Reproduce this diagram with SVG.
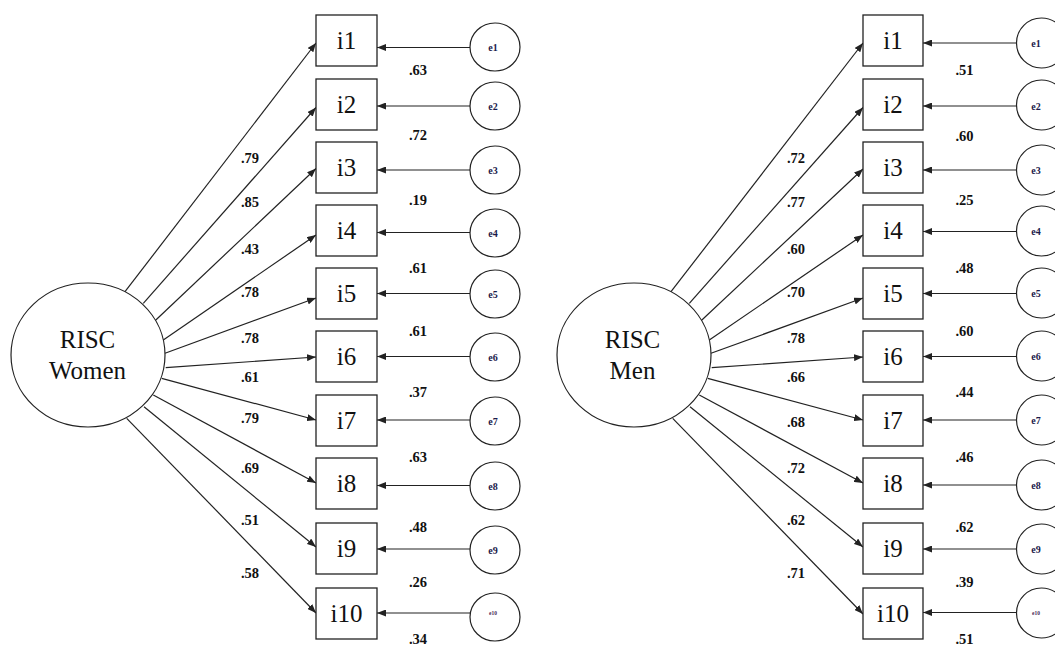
<svg xmlns="http://www.w3.org/2000/svg" width="1055" height="645" viewBox="0 0 1055 645">
<style>
.box{fill:#fff;stroke:#222;stroke-width:1.3}
.lat{fill:#fff;stroke:#222;stroke-width:1.2}
.err{fill:#fff;stroke:#222;stroke-width:1.2}
.edge{fill:none;stroke:#222;stroke-width:1.2;marker-end:url(#ah)}
.t{font-family:"Liberation Serif","Times New Roman",serif;fill:#111;text-anchor:middle}
.it{font-size:25px}
.lt{font-size:25px}
.et{font-size:10px;font-weight:bold;fill:#1a1a4a}
.e10{font-size:5.5px;font-weight:bold;fill:#4a2a5a}
.lb{font-size:14.5px;font-weight:bold}
</style>
<defs>
<marker id="ah" markerUnits="userSpaceOnUse" markerWidth="9" markerHeight="7" refX="9" refY="3.5" orient="auto">
<path d="M0,0 L9,3.5 L0,7 z" fill="#222"/>
</marker>
</defs>
<rect width="1055" height="645" fill="#fff"/>

<g id="connectors">
<line class="edge" x1="125" y1="291.7" x2="316" y2="43"/>
<line class="edge" x1="143.3" y1="303.3" x2="316" y2="107.5"/>
<line class="edge" x1="154" y1="321.7" x2="316" y2="168.5"/>
<line class="edge" x1="163.3" y1="340" x2="316" y2="235"/>
<line class="edge" x1="165" y1="353.3" x2="316" y2="298"/>
<line class="edge" x1="165.7" y1="367.7" x2="316" y2="357"/>
<line class="edge" x1="161.7" y1="378.3" x2="316" y2="420"/>
<line class="edge" x1="153.3" y1="395" x2="316" y2="483"/>
<line class="edge" x1="144" y1="406.7" x2="316" y2="547"/>
<line class="edge" x1="126.7" y1="418.3" x2="316" y2="613"/>
<line class="edge" x1="470" y1="47.5" x2="377" y2="47.5"/>
<line class="edge" x1="470" y1="106" x2="377" y2="106"/>
<line class="edge" x1="470" y1="170" x2="377" y2="170"/>
<line class="edge" x1="470" y1="232.5" x2="377" y2="232.5"/>
<line class="edge" x1="470" y1="293.5" x2="377" y2="293.5"/>
<line class="edge" x1="470" y1="356.5" x2="377" y2="356.5"/>
<line class="edge" x1="470" y1="420" x2="377" y2="420"/>
<line class="edge" x1="470" y1="485.5" x2="377" y2="485.5"/>
<line class="edge" x1="470" y1="549" x2="377" y2="549"/>
<line class="edge" x1="470" y1="613" x2="377" y2="613"/>
<line class="edge" x1="671" y1="291.7" x2="863" y2="43"/>
<line class="edge" x1="689.3" y1="303.3" x2="863" y2="107.5"/>
<line class="edge" x1="700" y1="321.7" x2="863" y2="169"/>
<line class="edge" x1="709.3" y1="340" x2="863" y2="235"/>
<line class="edge" x1="711" y1="353.3" x2="863" y2="298"/>
<line class="edge" x1="711.7" y1="367.7" x2="863" y2="357"/>
<line class="edge" x1="707.7" y1="378.3" x2="863" y2="420"/>
<line class="edge" x1="699.3" y1="395" x2="863" y2="483"/>
<line class="edge" x1="690" y1="406.7" x2="863" y2="547"/>
<line class="edge" x1="672.7" y1="418.3" x2="863" y2="614"/>
<line class="edge" x1="1016.5" y1="43" x2="923" y2="43"/>
<line class="edge" x1="1016.5" y1="106" x2="923" y2="106"/>
<line class="edge" x1="1016.5" y1="170" x2="923" y2="170"/>
<line class="edge" x1="1016.5" y1="231.5" x2="923" y2="231.5"/>
<line class="edge" x1="1016.5" y1="293.5" x2="923" y2="293.5"/>
<line class="edge" x1="1016.5" y1="356.5" x2="923" y2="356.5"/>
<line class="edge" x1="1016.5" y1="420" x2="923" y2="420"/>
<line class="edge" x1="1016.5" y1="485" x2="923" y2="485"/>
<line class="edge" x1="1016.5" y1="549" x2="923" y2="549"/>
<line class="edge" x1="1016.5" y1="612.5" x2="923" y2="612.5"/>
</g>

<g id="labels" class="t lb">
<text x="250" y="163">.79</text>
<text x="250" y="207">.85</text>
<text x="250" y="254">.43</text>
<text x="250" y="297">.78</text>
<text x="250" y="343">.78</text>
<text x="250" y="382">.61</text>
<text x="250" y="423">.79</text>
<text x="250" y="473">.69</text>
<text x="250" y="525">.51</text>
<text x="250" y="578">.58</text>
<text x="418" y="75">.63</text>
<text x="418" y="140">.72</text>
<text x="418" y="205">.19</text>
<text x="418" y="273">.61</text>
<text x="418" y="336">.61</text>
<text x="418" y="397">.37</text>
<text x="418" y="462">.63</text>
<text x="418" y="532">.48</text>
<text x="418" y="587">.26</text>
<text x="418" y="644">.34</text>
<text x="796" y="163">.72</text>
<text x="796" y="207">.77</text>
<text x="796" y="254">.60</text>
<text x="796" y="297">.70</text>
<text x="796" y="343">.78</text>
<text x="796" y="382">.66</text>
<text x="796" y="427">.68</text>
<text x="796" y="473">.72</text>
<text x="796" y="525">.62</text>
<text x="796" y="578">.71</text>
<text x="964.5" y="75">.51</text>
<text x="964.5" y="141">.60</text>
<text x="964.5" y="205">.25</text>
<text x="964.5" y="273">.48</text>
<text x="964.5" y="336">.60</text>
<text x="964.5" y="397">.44</text>
<text x="964.5" y="462">.46</text>
<text x="964.5" y="532">.62</text>
<text x="964.5" y="587">.39</text>
<text x="964.5" y="644">.51</text>
</g>

<g id="risc-women"><ellipse class="lat" cx="88" cy="355" rx="77" ry="72"/><text class="t lt" x="87.5" y="348">RISC</text><text class="t lt" x="87.5" y="379">Women</text></g>
<g id="risc-men"><ellipse class="lat" cx="634" cy="355" rx="77" ry="72"/><text class="t lt" x="632.5" y="348">RISC</text><text class="t lt" x="632.5" y="379">Men</text></g>

<g id="w-i1"><rect class="box" x="316" y="15" width="61" height="51"/><text class="t it" x="346.5" y="49">i1</text></g>
<g id="w-i2"><rect class="box" x="316" y="79" width="61" height="51"/><text class="t it" x="346.5" y="113">i2</text></g>
<g id="w-i3"><rect class="box" x="316" y="142" width="61" height="51"/><text class="t it" x="346.5" y="176">i3</text></g>
<g id="w-i4"><rect class="box" x="316" y="205" width="61" height="51"/><text class="t it" x="346.5" y="239">i4</text></g>
<g id="w-i5"><rect class="box" x="316" y="268" width="61" height="51"/><text class="t it" x="346.5" y="302">i5</text></g>
<g id="w-i6"><rect class="box" x="316" y="331" width="61" height="51"/><text class="t it" x="346.5" y="365">i6</text></g>
<g id="w-i7"><rect class="box" x="316" y="395" width="61" height="51"/><text class="t it" x="346.5" y="429">i7</text></g>
<g id="w-i8"><rect class="box" x="316" y="458" width="61" height="51"/><text class="t it" x="346.5" y="492">i8</text></g>
<g id="w-i9"><rect class="box" x="316" y="523" width="61" height="51"/><text class="t it" x="346.5" y="557">i9</text></g>
<g id="w-i10"><rect class="box" x="316" y="588" width="61" height="51"/><text class="t it" x="346.5" y="622">i10</text></g>

<g id="w-e1"><ellipse class="err" cx="495" cy="47" rx="25" ry="24"/><text class="t et" x="493" y="50.5">e1</text></g>
<g id="w-e2"><ellipse class="err" cx="495" cy="106" rx="25" ry="24"/><text class="t et" x="493" y="109.5">e2</text></g>
<g id="w-e3"><ellipse class="err" cx="495" cy="170" rx="25" ry="24"/><text class="t et" x="493" y="173.5">e3</text></g>
<g id="w-e4"><ellipse class="err" cx="495" cy="233" rx="25" ry="24"/><text class="t et" x="493" y="236.5">e4</text></g>
<g id="w-e5"><ellipse class="err" cx="495" cy="294" rx="25" ry="24"/><text class="t et" x="493" y="297.5">e5</text></g>
<g id="w-e6"><ellipse class="err" cx="495" cy="357" rx="25" ry="24"/><text class="t et" x="493" y="360.5">e6</text></g>
<g id="w-e7"><ellipse class="err" cx="495" cy="421" rx="25" ry="24"/><text class="t et" x="493" y="424.5">e7</text></g>
<g id="w-e8"><ellipse class="err" cx="495" cy="486" rx="25" ry="24"/><text class="t et" x="493" y="489.5">e8</text></g>
<g id="w-e9"><ellipse class="err" cx="495" cy="550" rx="25" ry="24"/><text class="t et" x="493" y="553.5">e9</text></g>
<g id="w-e10"><ellipse class="err" cx="495" cy="617" rx="25" ry="24"/><text class="t e10" x="493" y="615">e10</text></g>

<g id="m-i1"><rect class="box" x="863" y="15" width="60" height="51"/><text class="t it" x="893" y="49">i1</text></g>
<g id="m-i2"><rect class="box" x="863" y="79" width="60" height="51"/><text class="t it" x="893" y="113">i2</text></g>
<g id="m-i3"><rect class="box" x="863" y="142" width="60" height="51"/><text class="t it" x="893" y="176">i3</text></g>
<g id="m-i4"><rect class="box" x="863" y="205" width="60" height="51"/><text class="t it" x="893" y="239">i4</text></g>
<g id="m-i5"><rect class="box" x="863" y="268" width="60" height="51"/><text class="t it" x="893" y="302">i5</text></g>
<g id="m-i6"><rect class="box" x="863" y="331" width="60" height="51"/><text class="t it" x="893" y="365">i6</text></g>
<g id="m-i7"><rect class="box" x="863" y="395" width="60" height="51"/><text class="t it" x="893" y="429">i7</text></g>
<g id="m-i8"><rect class="box" x="863" y="458" width="60" height="51"/><text class="t it" x="893" y="492">i8</text></g>
<g id="m-i9"><rect class="box" x="863" y="523" width="60" height="51"/><text class="t it" x="893" y="557">i9</text></g>
<g id="m-i10"><rect class="box" x="863" y="588" width="60" height="51"/><text class="t it" x="893" y="622">i10</text></g>

<g id="m-e1"><ellipse class="err" cx="1041.5" cy="43" rx="25" ry="25"/><text class="t et" x="1036" y="46.5">e1</text></g>
<g id="m-e2"><ellipse class="err" cx="1041.5" cy="105" rx="25" ry="25"/><text class="t et" x="1036" y="109.5">e2</text></g>
<g id="m-e3"><ellipse class="err" cx="1041.5" cy="170" rx="25" ry="25"/><text class="t et" x="1036" y="173.5">e3</text></g>
<g id="m-e4"><ellipse class="err" cx="1041.5" cy="231" rx="25" ry="25"/><text class="t et" x="1036" y="235">e4</text></g>
<g id="m-e5"><ellipse class="err" cx="1041.5" cy="293" rx="25" ry="25"/><text class="t et" x="1036" y="297">e5</text></g>
<g id="m-e6"><ellipse class="err" cx="1041.5" cy="356" rx="25" ry="25"/><text class="t et" x="1036" y="360">e6</text></g>
<g id="m-e7"><ellipse class="err" cx="1041.5" cy="420" rx="25" ry="25"/><text class="t et" x="1036" y="423.5">e7</text></g>
<g id="m-e8"><ellipse class="err" cx="1041.5" cy="485" rx="25" ry="25"/><text class="t et" x="1036" y="488.5">e8</text></g>
<g id="m-e9"><ellipse class="err" cx="1041.5" cy="549" rx="25" ry="25"/><text class="t et" x="1036" y="552.5">e9</text></g>
<g id="m-e10"><ellipse class="err" cx="1041.5" cy="613" rx="25" ry="25"/><text class="t e10" x="1036" y="614.5">e10</text></g>
</svg>
